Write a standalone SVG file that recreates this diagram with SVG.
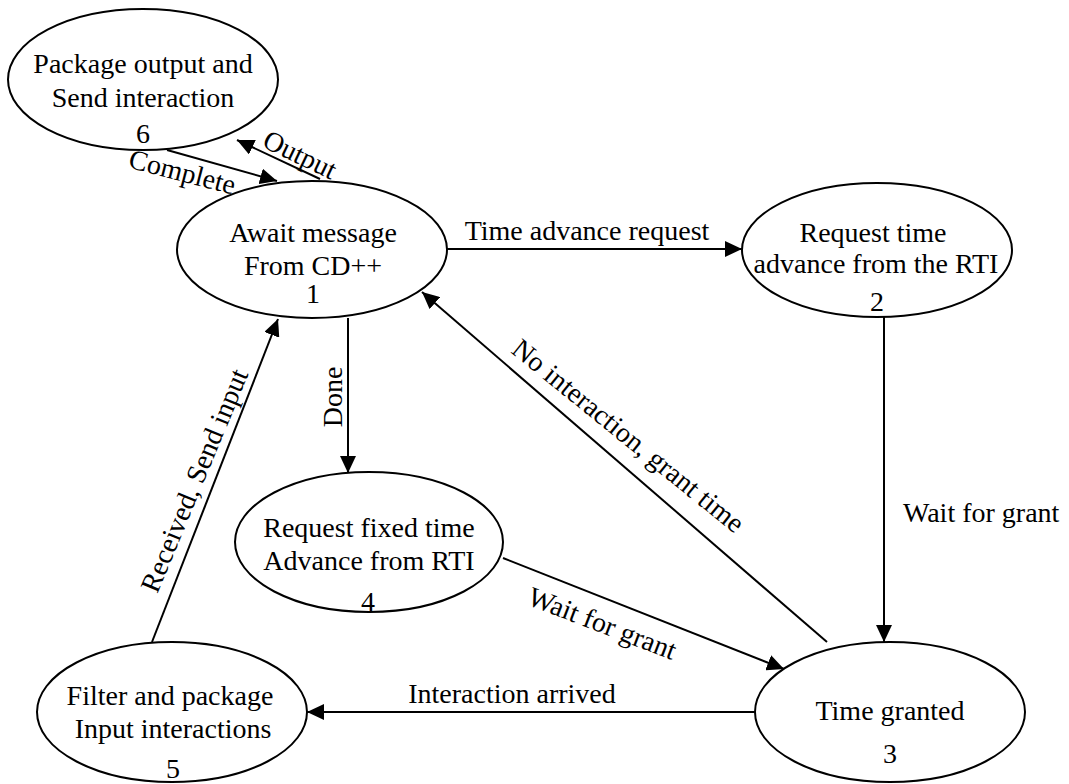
<svg xmlns="http://www.w3.org/2000/svg" width="1069" height="784" viewBox="0 0 1069 784">
  <style>
    .state { fill: #ffffff; stroke: #000000; stroke-width: 2; }
    .edge { fill: none; stroke: #000000; stroke-width: 2; marker-end: url(#arrow); }
    text { font-family: "Liberation Serif", "Times New Roman", serif; font-size: 28px; fill: #000000; }
    .c { text-anchor: middle; }
  </style>
  <defs>
    <marker id="arrow" markerUnits="userSpaceOnUse" markerWidth="18" markerHeight="16" refX="17" refY="8" orient="auto">
      <path d="M0,0 L17,8 L0,16 Z" fill="#000000"/>
    </marker>
  </defs>

  <rect width="1069" height="784" fill="#ffffff"/>

  <!-- transitions -->
  <g id="connectors">
    <line class="edge" x1="447" y1="249" x2="742" y2="249"/>
    <line class="edge" x1="884" y1="317" x2="884" y2="642"/>
    <line class="edge" x1="827" y1="642" x2="422" y2="292"/>
    <line class="edge" x1="348" y1="318" x2="348" y2="473"/>
    <line class="edge" x1="503" y1="558" x2="784" y2="669"/>
    <line class="edge" x1="755" y1="712" x2="307" y2="712"/>
    <line class="edge" x1="152" y1="642" x2="278" y2="319"/>
    <line class="edge" x1="320" y1="179" x2="237" y2="140"/>
    <line class="edge" x1="167" y1="150" x2="277" y2="181"/>

    <text class="c" x="587" y="240">Time advance request</text>
    <text x="903" y="522">Wait for grant</text>
    <text transform="translate(510,352) rotate(39)">No interaction, grant time</text>
    <text class="c" transform="translate(342,397) rotate(-90)">Done</text>
    <text class="c" transform="translate(599,632) rotate(21)">Wait for grant</text>
    <text class="c" x="512" y="703">Interaction arrived</text>
    <text class="c" transform="translate(203,484) rotate(-67.5)">Received, Send input</text>
    <text class="c" transform="translate(296,163) rotate(25.7)">Output</text>
    <text class="c" transform="translate(180,181) rotate(14.5)">Complete</text>
  </g>

  <g id="state6">
    <ellipse class="state" cx="143" cy="79.5" rx="135" ry="70.5"/>
    <text class="c" x="143" y="73">Package output and</text>
    <text class="c" x="143" y="107">Send interaction</text>
    <text class="c" x="143" y="143">6</text>
  </g>

  <g id="state1">
    <ellipse class="state" cx="312" cy="249.5" rx="135" ry="68.5"/>
    <text class="c" x="313" y="242">Await message</text>
    <text class="c" x="313" y="275">From CD++</text>
    <text class="c" x="313" y="303">1</text>
  </g>

  <g id="state2">
    <ellipse class="state" cx="877" cy="250" rx="135" ry="67"/>
    <text class="c" x="873" y="242">Request time</text>
    <text class="c" x="876" y="273">advance from the RTI</text>
    <text class="c" x="877" y="311">2</text>
  </g>

  <g id="state4">
    <ellipse class="state" cx="369" cy="542" rx="134" ry="70"/>
    <text class="c" x="369" y="537">Request fixed time</text>
    <text class="c" x="369" y="570">Advance from RTI</text>
    <text class="c" x="368" y="611">4</text>
  </g>

  <g id="state5">
    <ellipse class="state" cx="172" cy="712" rx="135" ry="70"/>
    <text class="c" x="170" y="705">Filter and package</text>
    <text class="c" x="173" y="738">Input interactions</text>
    <text class="c" x="173" y="778">5</text>
  </g>

  <g id="state3">
    <ellipse class="state" cx="890" cy="712" rx="135" ry="70"/>
    <text class="c" x="890" y="720">Time granted</text>
    <text class="c" x="890" y="763">3</text>
  </g>
</svg>
